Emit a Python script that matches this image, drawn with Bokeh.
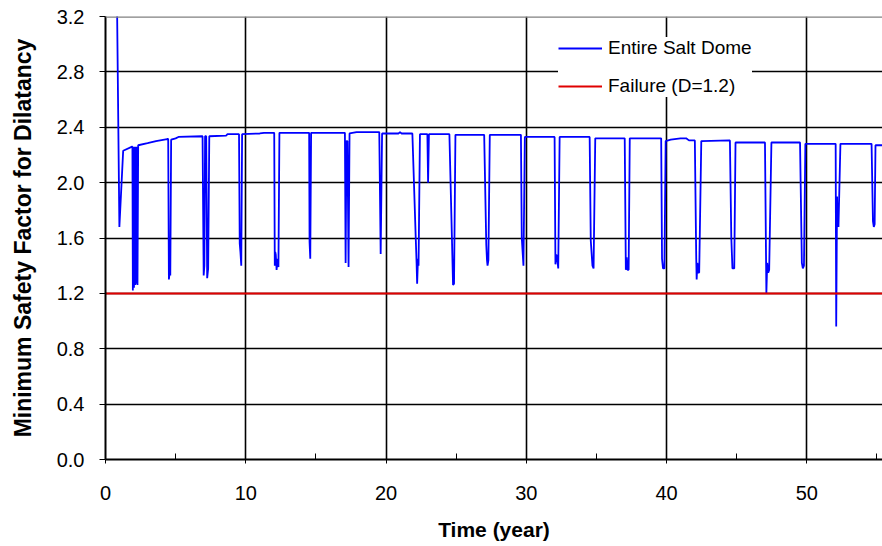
from bokeh.plotting import figure
from bokeh.models import FixedTicker, Span, Legend, LegendItem, Range1d, PrintfTickFormatter
from bokeh.embed import file_html
from bokeh.resources import INLINE

# ---- data ----
time_year = [
    0.80, 0.99, 1.26, 1.90,
    1.92, 1.95, 2.00, 2.03, 2.08, 2.12, 2.15, 2.20, 2.25, 2.28, 2.33,
    3.00, 3.60, 4.40,
    4.47, 4.52, 4.58, 4.62, 4.68,
    5.00, 5.20, 6.90,
    6.92, 7.00, 7.05, 7.10, 7.18, 7.25, 7.32, 7.40,
    8.60, 8.70, 9.50,
    9.52, 9.57, 9.62, 9.68, 9.74,
    11.00, 11.30, 11.95,
    12.03, 12.07, 12.10, 12.14, 12.20, 12.26, 12.33, 12.40,
    14.50,
    14.52, 14.55, 14.60, 14.66,
    17.05,
    17.07, 17.12, 17.18, 17.25, 17.33, 17.40,
    17.90, 19.50,
    19.52, 19.62, 19.72,
    20.90, 21.00, 21.10, 21.85,
    21.88, 22.12, 22.18, 22.22, 22.28, 22.32, 22.42,
    22.95, 23.00, 23.06,
    24.50,
    24.52, 24.70, 24.78, 24.85, 24.95,
    26.98,
    27.00, 27.15, 27.20, 27.24, 27.30, 27.40,
    29.60,
    29.62, 29.68, 29.80, 29.90,
    32.00,
    32.02, 32.08, 32.14, 32.20, 32.28, 32.38,
    34.50,
    34.52, 34.60, 34.72, 34.80, 34.92,
    37.00,
    37.02, 37.10, 37.16, 37.22, 37.30, 37.38,
    39.60,
    39.62, 39.68, 39.75, 39.85, 39.94,
    40.30, 41.00, 41.40, 41.60, 42.00,
    42.02, 42.12, 42.15, 42.20, 42.27, 42.33, 42.48,
    44.50,
    44.52, 44.62, 44.70, 44.83, 44.92,
    47.00,
    47.02, 47.12, 47.18, 47.25, 47.32, 47.48,
    49.50,
    49.52, 49.65, 49.72, 49.80, 49.90,
    52.05,
    52.06, 52.10, 52.16, 52.20, 52.26, 52.40,
    54.60,
    54.62, 54.72, 54.78, 54.84, 54.90,
    56.00,
]
safety_factor = [
    3.50, 1.68, 2.23, 2.26,
    2.26, 1.22, 2.26, 1.24, 2.26, 1.26, 2.26, 1.27, 2.26, 1.26, 2.27,
    2.285, 2.30, 2.315,
    2.315, 1.30, 1.36, 1.33, 2.31,
    2.32, 2.33, 2.335,
    2.335, 1.33, 1.40, 2.335, 2.335, 1.31, 1.38, 2.335,
    2.34, 2.35, 2.35,
    2.35, 1.56, 1.50, 1.40, 2.35,
    2.355, 2.36, 2.36,
    2.36, 1.40, 1.50, 1.48, 1.37, 1.45, 1.39, 2.36,
    2.36,
    2.36, 1.57, 1.45, 2.36,
    2.36,
    2.36, 1.42, 2.30, 2.30, 1.39, 2.355,
    2.365, 2.365,
    2.365, 1.485, 2.355,
    2.355, 2.365, 2.355, 2.355,
    2.355, 1.60, 1.42, 1.27, 1.45, 1.40, 2.35,
    2.35, 2.00, 2.35,
    2.35,
    2.35, 1.60, 1.26, 1.27, 2.345,
    2.345,
    2.345, 1.55, 1.44, 1.40, 1.44, 2.345,
    2.345,
    2.345, 1.60, 1.40, 2.33,
    2.33,
    2.33, 1.41, 1.48, 1.46, 1.38, 2.33,
    2.33,
    2.33, 1.58, 1.40, 1.38, 2.32,
    2.32,
    2.32, 1.37, 1.46, 1.37, 1.37, 2.32,
    2.32,
    2.32, 1.45, 1.38, 1.38, 2.30,
    2.31, 2.32, 2.32, 2.305, 2.305,
    2.305, 1.45, 1.30, 1.42, 1.35, 1.35, 2.30,
    2.305,
    2.305, 1.60, 1.38, 1.38, 2.29,
    2.29,
    2.29, 1.20, 1.42, 1.35, 1.37, 2.29,
    2.29,
    2.29, 1.42, 1.38, 1.40, 2.28,
    2.28,
    2.28, 0.96, 1.90, 1.72, 1.68, 2.28,
    2.28,
    2.28, 1.72, 1.68, 1.70, 2.27,
    2.27,
]
failure_time = [0, 60]
failure_level = [1.2, 1.2]

x_ticks = [0, 10, 20, 30, 40, 50]
x_minor_ticks = [5, 15, 25, 35, 45, 55]
y_ticks = [0.0, 0.4, 0.8, 1.2, 1.6, 2.0, 2.4, 2.8, 3.2]

FONT = "Liberation Sans"

p = figure(width=882, height=546, output_backend="svg", toolbar_location=None,
           x_range=Range1d(0, 55.4), y_range=Range1d(0, 3.2),
           min_border_left=105, min_border_right=0, min_border_top=16, min_border_bottom=87)
p.outline_line_color = None
p.background_fill_color = "white"
p.border_fill_color = "white"

# axes
xa = p.xaxis[0]
xa.ticker = FixedTicker(ticks=x_ticks, minor_ticks=x_minor_ticks)
xa.axis_label = "Time (year)"
xa.axis_label_text_font = FONT
xa.axis_label_text_font_style = "bold"
xa.axis_label_text_font_size = "21px"
xa.axis_label_text_color = "black"
xa.axis_label_standoff = 15
xa.major_label_text_font = FONT
xa.major_label_text_font_size = "20px"
xa.major_label_text_color = "black"
xa.major_label_standoff = 22
xa.axis_line_color = "black"
xa.axis_line_width = 2
xa.major_tick_line_color = "black"
xa.major_tick_out = 4
xa.major_tick_in = 0
xa.minor_tick_line_color = "black"
xa.minor_tick_in = 6
xa.minor_tick_out = 0

ya = p.yaxis[0]
ya.ticker = FixedTicker(ticks=y_ticks)
ya.formatter = PrintfTickFormatter(format="%.1f")
ya.axis_label = "Minimum Safety Factor for Dilatancy"
ya.axis_label_text_font = FONT
ya.axis_label_text_font_style = "bold"
ya.axis_label_text_font_size = "23px"
ya.axis_label_text_color = "black"
ya.axis_label_standoff = 18
ya.major_label_text_font = FONT
ya.major_label_text_font_size = "20px"
ya.major_label_text_color = "black"
ya.major_label_standoff = 15
ya.axis_line_color = "black"
ya.axis_line_width = 2
ya.major_tick_line_color = "black"
ya.major_tick_out = 6
ya.major_tick_in = 0
ya.minor_tick_line_color = None

# grids
p.xgrid.ticker = FixedTicker(ticks=x_ticks)
p.ygrid.ticker = FixedTicker(ticks=y_ticks)
p.xgrid.grid_line_color = "black"
p.ygrid.grid_line_color = "black"
p.xgrid.grid_line_width = 1.6
p.ygrid.grid_line_width = 1.6
p.xgrid.grid_line_alpha = 1.0
p.ygrid.grid_line_alpha = 1.0

p.add_layout(Span(location=y_ticks[-1], dimension="width", line_color="#808080", line_width=2.5))

blue = p.line(time_year, safety_factor, line_color="#0000ff", line_width=1.8)
red = p.line(failure_time, failure_level, line_color="#e00000", line_width=2)

legend = Legend(items=[LegendItem(label="Entire Salt Dome", renderers=[blue]),
                       LegendItem(label="Failure (D=1.2)", renderers=[red])],
                location=(453, 362), margin=0, padding=8, spacing=16,
                glyph_width=44, glyph_height=20, label_height=20, label_standoff=6,
                label_text_font=FONT, label_text_font_size="19px", label_text_color="black",
                border_line_color=None, background_fill_color="white", background_fill_alpha=1.0)
p.add_layout(legend)

open("out.html", "w").write(file_html(p, INLINE))
